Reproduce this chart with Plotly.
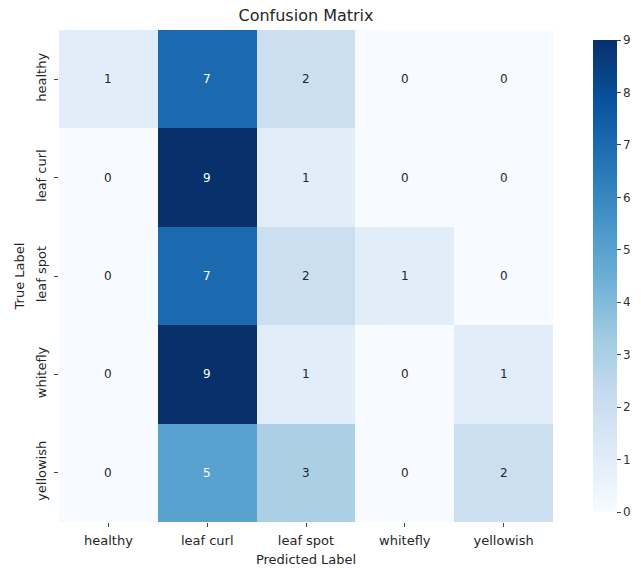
import plotly.graph_objects as go

labels = ["healthy", "leaf curl", "leaf spot", "whitefly", "yellowish"]
matrix = [
    [1, 7, 2, 0, 0],
    [0, 9, 1, 0, 0],
    [0, 7, 2, 1, 0],
    [0, 9, 1, 0, 1],
    [0, 5, 3, 0, 2],
]
cbar_ticks = [0, 1, 2, 3, 4, 5, 6, 7, 8, 9]

blues = ["rgb(247,251,255)", "rgb(222,235,247)", "rgb(198,219,239)", "rgb(158,202,225)",
         "rgb(107,174,214)", "rgb(66,146,198)", "rgb(33,113,181)", "rgb(8,81,156)", "rgb(8,48,107)"]
cs = [[i / (len(blues) - 1), c] for i, c in enumerate(blues)]

L, R, T, B = 59, 88, 30, 48
W, H = 641, 570
pw = W - L - R

fig = go.Figure(go.Heatmap(
    z=matrix, x=labels, y=labels, colorscale=cs, zmin=0, zmax=9,
    xgap=0, ygap=0,
    colorbar=dict(x=(583 - L) / pw, xanchor="left", thickness=24, thicknessmode="pixels",
                  len=1.0, y=0.5, yanchor="middle",
                  tickvals=cbar_ticks, ticks="outside", ticklen=4, outlinewidth=0,
                  tickfont=dict(size=12, color="#333")),
    hoverinfo="skip",
))

ann = []
for i, row in enumerate(matrix):
    for j, v in enumerate(row):
        ann.append(dict(x=labels[j], y=labels[i], text=str(v), showarrow=False,
                        font=dict(size=12, color="white" if v > 4 else "#262626")))

fig.update_layout(
    width=W, height=H,
    margin=dict(l=L, r=R, t=T, b=B, autoexpand=False),
    paper_bgcolor="white", plot_bgcolor="white",
    font=dict(family="DejaVu Sans", size=13, color="#262626"),
    title=dict(text="Confusion Matrix", x=(L + W - R) / 2 / W, xanchor="center",
               yref="container", y=1 - 15 / H, yanchor="middle", font=dict(size=16, color="#262626")),
    annotations=ann,
    xaxis=dict(title=dict(text="Predicted Label", standoff=8, font=dict(size=13)), ticks="outside", ticklen=4,
               ticklabelstandoff=2,
               automargin=False, showgrid=False, zeroline=False, tickfont=dict(size=13)),
    yaxis=dict(title=dict(text="True Label", standoff=6, font=dict(size=13)), ticks="outside", ticklen=4,
               ticklabelstandoff=3,
               automargin=False, autorange="reversed", tickangle=-90, showgrid=False, zeroline=False,
               tickfont=dict(size=13)),
)

fig.write_html("out.html", config={"displayModeBar": False},
               post_script="document.body.style.margin='0';")
